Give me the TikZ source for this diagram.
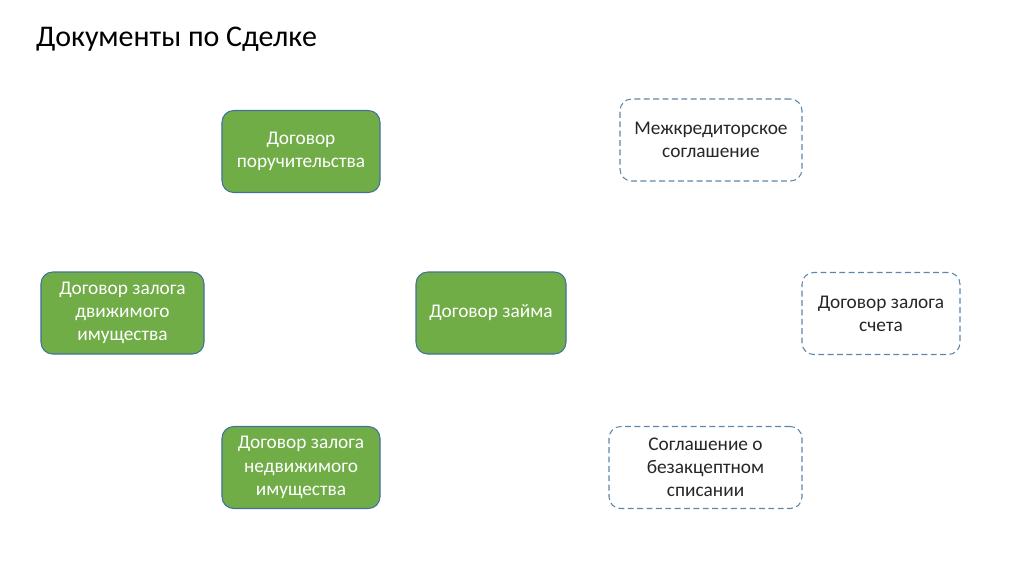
\documentclass[tikz,border=0pt]{standalone}
\usepackage{fontspec}
\setmainfont{Carlito}
\definecolor{docgreen}{HTML}{70AD47}
\definecolor{docblue}{HTML}{41719C}
\begin{document}
\begin{tikzpicture}
  [x=0.03cm,y=-0.03cm,every node/.style={align=center,font=\fontsize{16.5}{19.8}\selectfont,inner sep=0pt}]
  \tikzstyle{main} = [draw=docblue,fill=docgreen,text=white,rounded corners=10pt,line width=0.9pt,minimum height=2.46cm]
  \tikzstyle{extra} = [draw=docblue!85,dash pattern=on 5pt off 3pt,text=black!85,rounded corners=10pt,line width=0.9pt,minimum height=2.46cm]
  \useasboundingbox (0,0) rectangle (1024,574);
  \node[anchor=west,font=\fontsize{25.6}{30}\selectfont] (title) at (36,39) {Документы по Сделке};

  \node[main,minimum width=4.74cm] (guarantee) at (301,151.5) {Договор\\поручительства};
  \node[main,minimum width=4.89cm] (movable) at (122.5,313) {Договор залога\\движимого\\имущества};
  \node[main,minimum width=4.5cm] (loan) at (491,313) {Договор займа};
  \node[main,minimum width=4.74cm] (realty) at (301,467.5) {Договор залога\\недвижимого\\имущества};

  \node[extra,minimum width=5.46cm] (intercredit) at (711,140) {Межкредиторское\\соглашение};
  \node[extra,minimum width=4.74cm] (account) at (881,313.5) {Договор залога\\счета};
  \node[extra,minimum width=5.79cm] (debit) at (705.5,467.5) {Соглашение о\\безакцептном\\списании};
\end{tikzpicture}
\end{document}
